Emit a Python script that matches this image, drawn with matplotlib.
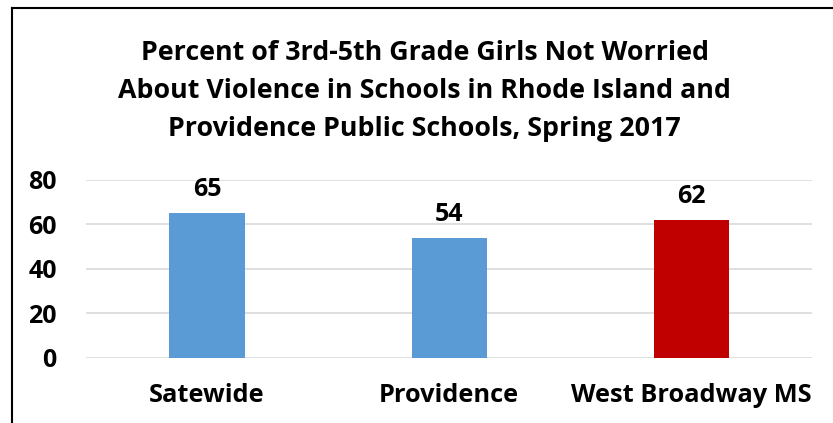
import matplotlib
matplotlib.use("Agg")
import matplotlib.pyplot as plt
from matplotlib.lines import Line2D

categories = ["Satewide", "Providence", "West Broadway MS"]
values = [65, 54, 62]
bar_colors = ["#5B9BD5", "#5B9BD5", "#C00000"]
yticks = [0, 20, 40, 60, 80]
title = ("Percent of 3rd-5th Grade Girls Not Worried\n"
         "About Violence in Schools in Rhode Island and\n"
         "Providence Public Schools, Spring 2017")

plt.rcParams['font.family'] = ['Open Sans', 'DejaVu Sans']
plt.rcParams['font.weight'] = 'bold'

fig = plt.figure(figsize=(8.33, 4.23), dpi=100)
ax = fig.add_axes([0.1032, 0.1537, 0.8718, 0.4208])

x = range(len(categories))
bars = ax.bar(x, values, width=0.31, color=bar_colors, zorder=3)
for b, v in zip(bars, values):
    ax.text(b.get_x() + b.get_width() / 2, v + 5, str(v), ha='center', va='bottom',
            fontsize=18, fontweight='bold', color='black')

ax.set_xlim(-0.5, len(categories) - 0.5)
ax.set_ylim(0, 80)
ax.set_yticks(yticks)
ax.set_xticks(list(x))
ax.set_xticklabels(categories, fontsize=18.3, fontweight='bold')
ax.tick_params(axis='y', labelsize=18, length=0, pad=21)
ax.tick_params(axis='x', length=0, pad=18)
ax.grid(axis='y', color='#D9D9D9', linewidth=1.2, zorder=0)
for s in ax.spines.values():
    s.set_visible(False)

fig.text(0.51, 0.785, title, ha='center', va='center', fontsize=19.3,
         fontweight='bold', linespacing=1.58)

# chart border (left and top edges visible in frame)
fig.add_artist(Line2D([12 / 833, 12 / 833], [0, 1 - 8 / 423], transform=fig.transFigure,
                      color='black', linewidth=1.5))
fig.add_artist(Line2D([12 / 833, 1], [1 - 8 / 423, 1 - 8 / 423], transform=fig.transFigure,
                      color='black', linewidth=1.5))

fig.savefig("out.png", dpi=100)
